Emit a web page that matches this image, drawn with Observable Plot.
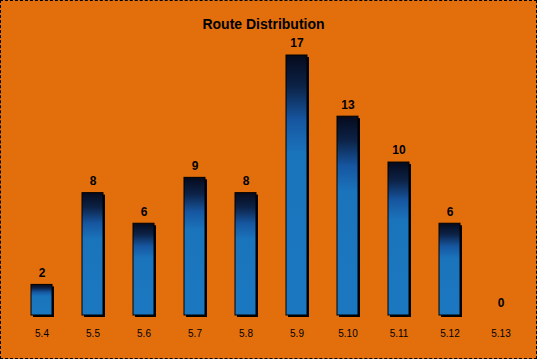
<!DOCTYPE html>
<html>
<head>
<meta charset="utf-8">
<script src="https://cdn.jsdelivr.net/npm/d3@7"></script>
<script src="https://cdn.jsdelivr.net/npm/@observablehq/plot@0.6"></script>
<style>
  html, body { margin: 0; padding: 0; background: #fff; }
  #wrap {
    width: 537px; height: 359px; box-sizing: border-box;
    background: #E26F0C; border: 1px dashed #000;
    font-family: "Liberation Sans", Arial, sans-serif; overflow: hidden;
  }
  #title {
    height: 36px; box-sizing: border-box; padding-top: 15px; padding-right: 10px;
    text-align: center; font-weight: bold; font-size: 14px; line-height: 16px; color: #000;
  }
</style>
</head>
<body>
<div id="wrap">
  <div id="title">Route Distribution</div>
  <div id="chart"></div>
</div>
<script>
const grades = ["5.4", "5.5", "5.6", "5.7", "5.8", "5.9", "5.10", "5.11", "5.12", "5.13"];
const counts = [2, 8, 6, 9, 8, 17, 13, 10, 6, 0];

const data = grades.map((g, i) => ({grade: g, count: counts[i]}));
const nonzero = data.filter(d => d.count > 0);

const chart = Plot.plot({
  width: 535,
  height: 321,
  marginLeft: 14,
  marginRight: 9.5,
  marginTop: 18,
  marginBottom: 43,
  style: {background: "transparent", fontFamily: "'Liberation Sans', Arial, sans-serif", color: "#000"},
  x: {domain: grades, paddingInner: 0.59, paddingOuter: 0.295, label: null},
  y: {domain: [0, 17], axis: null},
  marks: [
    Plot.barY(nonzero, {x: "grade", y: "count", fill: "#000", dx: 2, dy: 2}),
    Plot.barY(nonzero, {x: "grade", y: "count", fill: "url(#barGrad)", stroke: "#000", strokeWidth: 1}),
    Plot.text(data, {x: "grade", y: "count", text: d => String(d.count), dy: -12, fontWeight: "bold", fontSize: 12, fill: "#000"}),
    Plot.axisX({tickSize: 0, tickPadding: 14, fontSize: 10, label: null, stroke: "none", fill: "#000"})
  ]
});

d3.select(chart).insert("defs", ":first-child").html(`
  <linearGradient id="barGrad" x1="0" y1="0" x2="0" y2="1">
    <stop offset="0" stop-color="#050a1c"/>
    <stop offset="0.12" stop-color="#0c2246"/>
    <stop offset="0.25" stop-color="#1656a0"/>
    <stop offset="0.38" stop-color="#1a74bc"/>
    <stop offset="1" stop-color="#1b78c0"/>
  </linearGradient>
`);

document.getElementById("chart").appendChild(chart);
</script>
</body>
</html>
